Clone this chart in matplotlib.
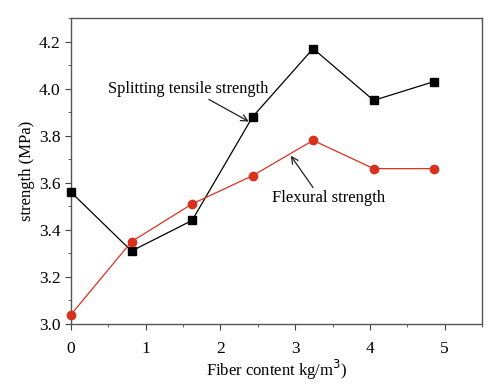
import matplotlib
matplotlib.use("Agg")
import matplotlib.pyplot as plt
from matplotlib.ticker import MultipleLocator

# fiber content (kg/m3) and strengths (MPa)
fiber = [0, 0.81, 1.62, 2.43, 3.24, 4.05, 4.86]
splitting = [3.56, 3.31, 3.44, 3.88, 4.17, 3.95, 4.03]
flexural = [3.04, 3.35, 3.51, 3.63, 3.78, 3.66, 3.66]

plt.rcParams['font.family'] = ['Liberation Serif', 'DejaVu Serif']

fig = plt.figure(figsize=(5, 3.92), dpi=100)
ax = fig.add_axes([71 / 500, 1 - 324 / 392, 411 / 500, 306 / 392])

ax.plot(fiber, splitting, color='black', lw=0.9, marker='s', ms=5.2, clip_on=False, zorder=3)
ax.plot(fiber, flexural, color='#d8321e', lw=0.9, marker='o', ms=6, clip_on=False, zorder=3)

ax.set_xlim(0, 5.5)
ax.set_ylim(3.0, 4.3)
ax.xaxis.set_major_locator(MultipleLocator(1))
ax.xaxis.set_minor_locator(MultipleLocator(0.5))
ax.yaxis.set_major_locator(MultipleLocator(0.2))
ax.yaxis.set_minor_locator(MultipleLocator(0.1))
ax.tick_params(which='both', direction='out', top=False, right=False, labelsize=12.5, color='#444444')
ax.tick_params(which='major', length=4)
ax.tick_params(which='minor', length=2.5)
ax.tick_params(axis='x', pad=8)
for s in ax.spines.values():
    s.set_color('#555555')
    s.set_linewidth(1.0)

ax.set_xlabel('Fiber content kg/m$^3$)', fontsize=12, labelpad=1)
ax.set_ylabel('strength (MPa)', fontsize=12, labelpad=3)

ax.annotate('Splitting tensile strength', xy=(2.38, 3.86), xytext=(0.49, 4.0),
            fontsize=11.8, va='center', ha='left',
            arrowprops=dict(arrowstyle='->', color='#222222', lw=0.9,
                            shrinkA=0, shrinkB=0, relpos=(0.6, 0.0)))
ax.annotate('Flexural strength', xy=(2.94, 3.715), xytext=(2.69, 3.534),
            fontsize=12, va='center', ha='left',
            arrowprops=dict(arrowstyle='->', color='#222222', lw=0.9,
                            shrinkA=0, shrinkB=0, relpos=(0.38, 1.0)))

fig.savefig('out.png', dpi=100)
